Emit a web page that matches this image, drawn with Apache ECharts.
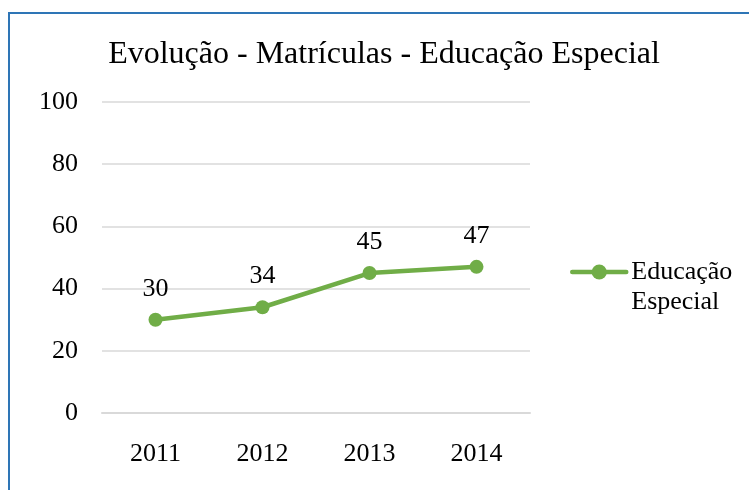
<!DOCTYPE html>
<html>
<head>
<meta charset="utf-8">
<script src="https://cdn.jsdelivr.net/npm/echarts@6/dist/echarts.min.js"></script>
<style>
html, body { margin: 0; padding: 0; background: #fff; }
#main { width: 749px; height: 490px; }
</style>
</head>
<body>
<div id="main"></div>
<script>
var titleText = 'Evolução - Matrículas - Educação Especial';
var years = ['2011', '2012', '2013', '2014'];
var seriesName = 'Educação Especial';
var matriculas = [30, 34, 45, 47];
var yTicks = { min: 0, max: 100, step: 20 };

var serif = '"Liberation Serif", "Times New Roman", serif';

var chart = echarts.init(document.getElementById('main'));
var option = {
    backgroundColor: '#fff',
    animation: false,
    title: {
        text: titleText,
        left: 379,
        textAlign: 'center',
        top: 34,
        textStyle: { fontFamily: serif, fontSize: 32, fontWeight: 'normal', color: '#000' }
    },
    legend: {
        data: [seriesName],
        left: 570,
        top: 227,
        padding: 0,
        itemWidth: 54,
        itemHeight: 19,
        itemGap: 4,
        lineStyle: { width: 4.5, color: '#70AD47' },
        itemStyle: { color: '#70AD47' },
        // empty first line so the icon sits beside the first word, as in the original
        formatter: function () { return ' \nEducação\nEspecial'; },
        textStyle: { fontFamily: serif, fontSize: 26, color: '#000', lineHeight: 30 }
    },
    grid: { left: 102, right: 219, top: 102, bottom: 77 },
    xAxis: {
        type: 'category',
        data: years,
        boundaryGap: true,
        axisLine: { show: true, lineStyle: { color: '#d9d9d9', width: 2 } },
        axisTick: { show: false },
        axisLabel: { fontFamily: serif, fontSize: 26, color: '#000', margin: 28 }
    },
    yAxis: {
        type: 'value',
        min: yTicks.min,
        max: yTicks.max,
        interval: yTicks.step,
        axisLine: { show: false },
        axisTick: { show: false },
        splitLine: { lineStyle: { color: '#d9d9d9', width: 1.5 } },
        axisLabel: { fontFamily: serif, fontSize: 26, color: '#000', margin: 24 }
    },
    series: [{
        name: seriesName,
        type: 'line',
        data: matriculas,
        symbol: 'circle',
        symbolSize: 14,
        lineStyle: { color: '#70AD47', width: 4.5, cap: 'round' },
        itemStyle: { color: '#70AD47' },
        label: {
            show: true,
            position: 'top',
            distance: 11,
            fontFamily: serif,
            fontSize: 26,
            color: '#000'
        }
    }],
    graphic: [{
        type: 'polyline',
        shape: { points: [[9, 490], [9, 13], [749, 13]] },
        style: { stroke: '#2E75B6', lineWidth: 2, fill: null }
    }]
};
chart.setOption(option);
</script>
</body>
</html>
